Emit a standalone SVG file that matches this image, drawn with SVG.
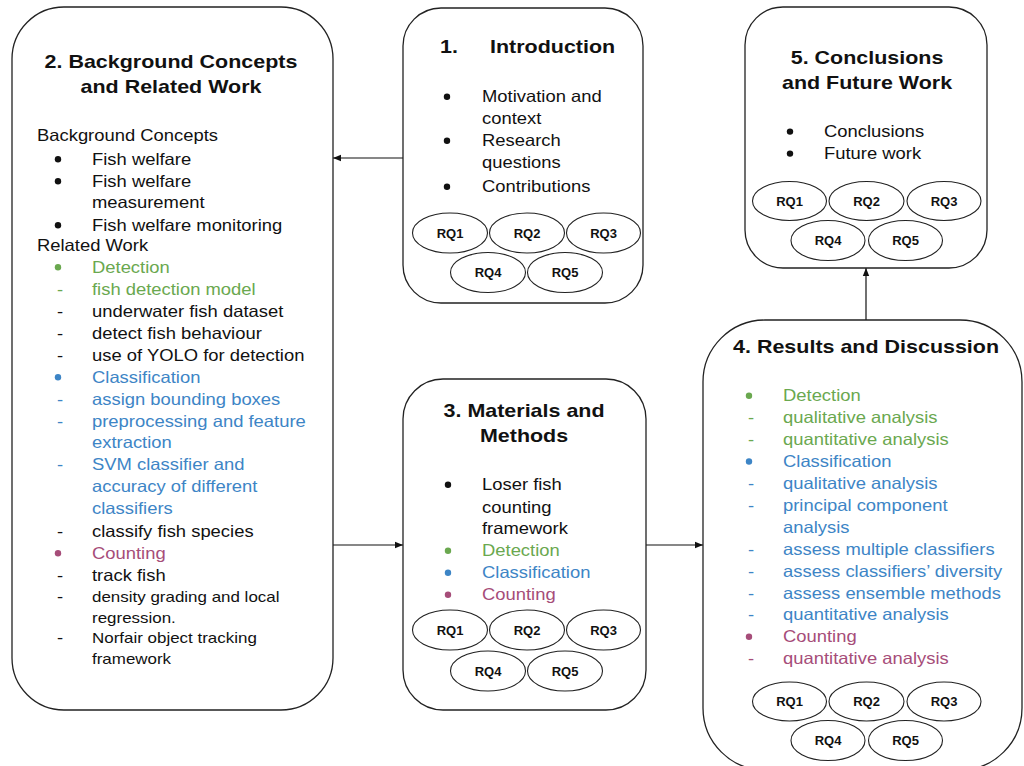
<svg xmlns="http://www.w3.org/2000/svg" width="1024" height="766" viewBox="0 0 1024 766">
<defs>
<marker id="arr" viewBox="0 0 10 10" refX="10" refY="5" markerWidth="8" markerHeight="8" markerUnits="userSpaceOnUse" orient="auto"><path d="M0,1 L10,5 L0,9 z" fill="#111"/></marker>
</defs>
<style>
.box{fill:#fff;stroke:#222;stroke-width:1.3}
.rq{fill:#fff;stroke:#222;stroke-width:1.1}
.rqt{font-family:"Liberation Sans",Arial,sans-serif;font-weight:bold;font-size:13px;text-anchor:middle;fill:#111}
.t{font-family:"Liberation Sans",Arial,sans-serif;font-size:16.3px;fill:#111}
.h{font-family:"Liberation Sans",Arial,sans-serif;font-size:19px;font-weight:bold;fill:#111}
.m{text-anchor:middle}
.s{font-size:15px}
.dot{fill:#111}
.g{fill:#6aa84f}
.b{fill:#3d85c6}
.p{fill:#a64d79}
.conn{stroke:#111;stroke-width:1.2;fill:none}
</style>
<rect width="1024" height="766" fill="#fff"/>

<g id="connectors">
<line class="conn" x1="403" y1="158" x2="333" y2="158" marker-end="url(#arr)"/>
<line class="conn" x1="333" y1="545" x2="403" y2="545" marker-end="url(#arr)"/>
<line class="conn" x1="646" y1="545" x2="703" y2="545" marker-end="url(#arr)"/>
<line class="conn" x1="866" y1="320" x2="866" y2="268" marker-end="url(#arr)"/>
</g>

<g id="node2">
<rect class="box" x="12" y="7" width="321" height="703" rx="52"/>
<circle class="dot" cx="58" cy="159.3" r="3.2"/>
<circle class="dot" cx="58" cy="181.3" r="3.2"/>
<circle class="dot" cx="58" cy="225.3" r="3.2"/>
<circle class="dot g" cx="58" cy="267.3" r="3.2"/>
<circle class="dot b" cx="58" cy="377.3" r="3.2"/>
<circle class="dot p" cx="58" cy="553.3" r="3.2"/>
<g transform="translate(92,0) scale(1.13,1)">
<text class="h m" x="69.9" y="68">2. Background Concepts</text>
<text class="h m" x="69.9" y="93">and Related Work</text>
<text class="t" x="-48.7" y="141.5">Background Concepts</text>
<text class="t" x="0" y="165">Fish welfare</text>
<text class="t" x="0" y="187">Fish welfare</text>
<text class="t" x="0" y="208">measurement</text>
<text class="t" x="0" y="231">Fish welfare monitoring</text>
<text class="t" x="-48.7" y="251">Related Work</text>
<text class="t g" x="0" y="273">Detection</text>
<text class="t g m" x="-28.3" y="295">-</text><text class="t g" x="0" y="295">fish detection model</text>
<text class="t m" x="-28.3" y="317">-</text><text class="t" x="0" y="317">underwater fish dataset</text>
<text class="t m" x="-28.3" y="339">-</text><text class="t" x="0" y="339">detect fish behaviour</text>
<text class="t m" x="-28.3" y="361">-</text><text class="t" x="0" y="361">use of YOLO for detection</text>
<text class="t b" x="0" y="383">Classification</text>
<text class="t b m" x="-28.3" y="405">-</text><text class="t b" x="0" y="405">assign bounding boxes</text>
<text class="t b m" x="-28.3" y="427">-</text><text class="t b" x="0" y="427">preprocessing and feature</text>
<text class="t b" x="0" y="448.5">extraction</text>
<text class="t b m" x="-28.3" y="470.5">-</text><text class="t b" x="0" y="470.5">SVM classifier and</text>
<text class="t b" x="0" y="492.5">accuracy of different</text>
<text class="t b" x="0" y="514.5">classifiers</text>
<text class="t m" x="-28.3" y="537">-</text><text class="t" x="0" y="537">classify fish species</text>
<text class="t p" x="0" y="559">Counting</text>
<text class="t m" x="-28.3" y="581">-</text><text class="t" x="0" y="581">track fish</text>
<text class="t m" x="-28.3" y="602">-</text><text class="t s" x="0" y="602">density grading and local</text>
<text class="t s" x="0" y="623">regression.</text>
<text class="t m" x="-28.3" y="643">-</text><text class="t s" x="0" y="643">Norfair object tracking</text>
<text class="t s" x="0" y="664">framework</text>
</g>
</g>

<g id="node1">
<rect class="box" x="403" y="8" width="240" height="295" rx="38"/>
<circle class="dot" cx="447" cy="96.8" r="3.2"/>
<circle class="dot" cx="447" cy="140.8" r="3.2"/>
<circle class="dot" cx="447" cy="186.8" r="3.2"/>
<g transform="translate(482,0) scale(1.13,1)">
<text class="h" x="-37.2" y="53">1.</text>
<text class="h" x="7.1" y="53">Introduction</text>
<text class="t" x="0" y="102.5">Motivation and</text>
<text class="t" x="0" y="124.5">context</text>
<text class="t" x="0" y="146.5">Research</text>
<text class="t" x="0" y="168.5">questions</text>
<text class="t" x="0" y="192.5">Contributions</text>
</g>
<ellipse class="rq" cx="450" cy="233" rx="37.5" ry="20"/><text class="rqt" x="450" y="237.5">RQ1</text>
<ellipse class="rq" cx="527" cy="233" rx="37.5" ry="20"/><text class="rqt" x="527" y="237.5">RQ2</text>
<ellipse class="rq" cx="603.5" cy="233" rx="37" ry="20"/><text class="rqt" x="603.5" y="237.5">RQ3</text>
<ellipse class="rq" cx="488" cy="272.5" rx="37.5" ry="20"/><text class="rqt" x="488" y="277">RQ4</text>
<ellipse class="rq" cx="565" cy="272.5" rx="37.5" ry="20"/><text class="rqt" x="565" y="277">RQ5</text>
</g>

<g id="node3">
<rect class="box" x="403" y="379" width="243" height="331" rx="40"/>
<circle class="dot" cx="448" cy="484.8" r="3.2"/>
<circle class="dot g" cx="448" cy="550.8" r="3.2"/>
<circle class="dot b" cx="448" cy="572.8" r="3.2"/>
<circle class="dot p" cx="448" cy="594.8" r="3.2"/>
<g transform="translate(482,0) scale(1.13,1)">
<text class="h m" x="37.2" y="417">3. Materials and</text>
<text class="h m" x="37.2" y="442">Methods</text>
<text class="t" x="0" y="490.5">Loser fish</text>
<text class="t" x="0" y="512.5">counting</text>
<text class="t" x="0" y="534.5">framework</text>
<text class="t g" x="0" y="556.5">Detection</text>
<text class="t b" x="0" y="578.5">Classification</text>
<text class="t p" x="0" y="600.5">Counting</text>
</g>
<ellipse class="rq" cx="450" cy="630" rx="37.5" ry="20"/><text class="rqt" x="450" y="634.5">RQ1</text>
<ellipse class="rq" cx="527" cy="630" rx="37.5" ry="20"/><text class="rqt" x="527" y="634.5">RQ2</text>
<ellipse class="rq" cx="603.5" cy="630" rx="37" ry="20"/><text class="rqt" x="603.5" y="634.5">RQ3</text>
<ellipse class="rq" cx="488" cy="671" rx="37.5" ry="20"/><text class="rqt" x="488" y="675.5">RQ4</text>
<ellipse class="rq" cx="565" cy="671" rx="37.5" ry="20"/><text class="rqt" x="565" y="675.5">RQ5</text>
</g>

<g id="node5">
<rect class="box" x="745" y="7" width="242" height="261" rx="38"/>
<circle class="dot" cx="790" cy="131.6" r="3.2"/>
<circle class="dot" cx="790" cy="153.6" r="3.2"/>
<g transform="translate(824,0) scale(1.13,1)">
<text class="h m" x="38.1" y="64">5. Conclusions</text>
<text class="h m" x="38.1" y="89.5">and Future Work</text>
<text class="t" x="0" y="137.3">Conclusions</text>
<text class="t" x="0" y="159.3">Future work</text>
</g>
<ellipse class="rq" cx="789.5" cy="201" rx="37" ry="19.5"/><text class="rqt" x="789.5" y="205.5">RQ1</text>
<ellipse class="rq" cx="866.5" cy="201" rx="37.5" ry="19.5"/><text class="rqt" x="866.5" y="205.5">RQ2</text>
<ellipse class="rq" cx="944" cy="201" rx="37" ry="19.5"/><text class="rqt" x="944" y="205.5">RQ3</text>
<ellipse class="rq" cx="828" cy="240.5" rx="37" ry="20"/><text class="rqt" x="828" y="245">RQ4</text>
<ellipse class="rq" cx="905.5" cy="240.5" rx="37" ry="20"/><text class="rqt" x="905.5" y="245">RQ5</text>
</g>

<g id="node4">
<rect class="box" x="703" y="320" width="319" height="450" rx="62"/>
<circle class="dot g" cx="749" cy="395.8" r="3.2"/>
<circle class="dot b" cx="749" cy="461.5" r="3.2"/>
<circle class="dot p" cx="749" cy="636.7" r="3.2"/>
<g transform="translate(783,0) scale(1.13,1)">
<text class="h m" x="73.5" y="353">4. Results and Discussion</text>
<text class="t g" x="0" y="401.5">Detection</text>
<text class="t g m" x="-28.3" y="423.4">-</text><text class="t g" x="0" y="423.4">qualitative analysis</text>
<text class="t g m" x="-28.3" y="445.3">-</text><text class="t g" x="0" y="445.3">quantitative analysis</text>
<text class="t b" x="0" y="467.2">Classification</text>
<text class="t b m" x="-28.3" y="489.1">-</text><text class="t b" x="0" y="489.1">qualitative analysis</text>
<text class="t b m" x="-28.3" y="511">-</text><text class="t b" x="0" y="511">principal component</text>
<text class="t b" x="0" y="532.9">analysis</text>
<text class="t b m" x="-28.3" y="554.8">-</text><text class="t b" x="0" y="554.8">assess multiple classifiers</text>
<text class="t b m" x="-28.3" y="576.7">-</text><text class="t b" x="0" y="576.7">assess classifiers’ diversity</text>
<text class="t b m" x="-28.3" y="598.6">-</text><text class="t b" x="0" y="598.6">assess ensemble methods</text>
<text class="t b m" x="-28.3" y="620.5">-</text><text class="t b" x="0" y="620.5">quantitative analysis</text>
<text class="t p" x="0" y="642.4">Counting</text>
<text class="t p m" x="-28.3" y="664.3">-</text><text class="t p" x="0" y="664.3">quantitative analysis</text>
</g>
<ellipse class="rq" cx="789.5" cy="701.5" rx="37" ry="19.5"/><text class="rqt" x="789.5" y="706">RQ1</text>
<ellipse class="rq" cx="866.5" cy="701.5" rx="37.5" ry="19.5"/><text class="rqt" x="866.5" y="706">RQ2</text>
<ellipse class="rq" cx="944" cy="701.5" rx="37" ry="19.5"/><text class="rqt" x="944" y="706">RQ3</text>
<ellipse class="rq" cx="828" cy="740.5" rx="37" ry="20"/><text class="rqt" x="828" y="745">RQ4</text>
<ellipse class="rq" cx="905.5" cy="740.5" rx="37" ry="20"/><text class="rqt" x="905.5" y="745">RQ5</text>
</g>
</svg>
